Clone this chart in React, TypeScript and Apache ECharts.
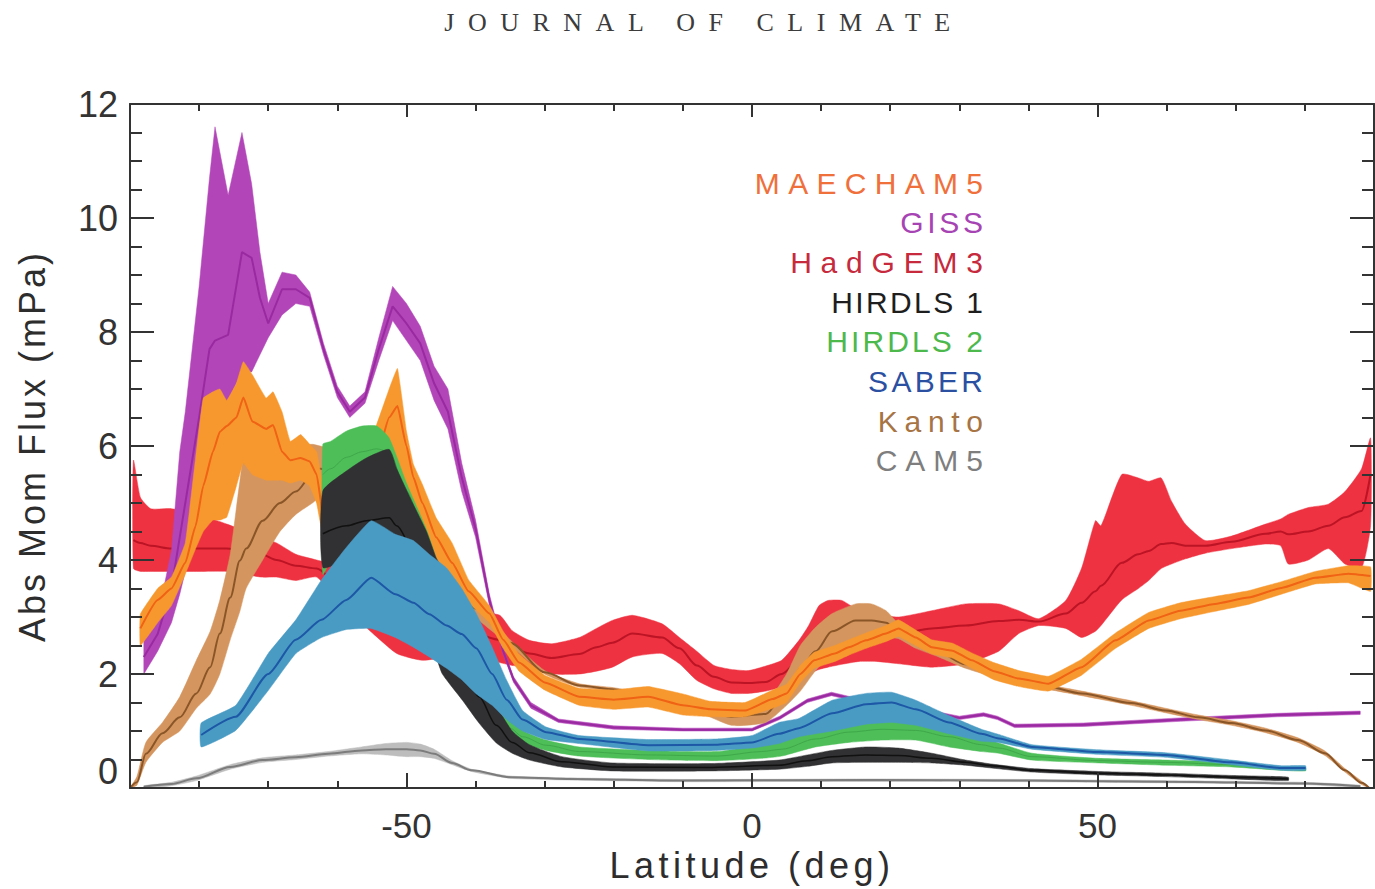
import React, { useEffect, useRef } from "react";
import * as echarts from "echarts";

// ---------------- data ----------------
const xLabelValues = [-50, 0, 50];

const hadLat = [-89.5,-88.5,-87,-84,-80,-76,-71,-68.8,-66,-63,-60,-57,-55.3,-51.4,-47.7,-44,-40,-36.5,-34.7,-32.2,-29,-25,-22.5,-20.2,-17.3,-13,-10.5,-8,-5.5,-3,-0.5,2,4.3,6.8,8.2,9.7,11,13,15.5,18,21.2,26,30.9,35.7,38.6,41.5,45.4,47.7,49.7,50.5,53.5,55.9,57.4,59.2,60.7,62.7,65.6,69.4,74.3,76.5,77.6,80.5,83.4,85.8,88.2,89.5];
const hadLo = [3.85,3.8,3.8,3.8,3.8,3.8,3.7,3.7,3.64,3.7,3.3,2.95,2.76,2.36,2.24,2.3,2.3,2.2,2.15,2.12,2.0,2.0,2.05,2.12,2.3,2.36,2.18,1.89,1.74,1.66,1.66,1.7,1.77,1.9,2.0,2.08,2.12,2.17,2.22,2.22,2.18,2.12,2.18,2.4,2.71,2.85,2.8,2.64,2.75,2.85,3.3,3.5,3.64,3.85,3.93,4.02,4.12,4.2,4.28,4.25,3.93,4.0,4.2,3.93,3.86,4.6];
const hadMean = [4.35,4.3,4.25,4.2,4.2,4.2,4.1,4.0,3.9,3.85,3.6,3.3,3.1,2.8,2.7,2.75,2.7,2.6,2.45,2.36,2.28,2.35,2.47,2.55,2.71,2.64,2.45,2.15,1.95,1.85,1.84,1.86,2.0,2.24,2.4,2.64,2.75,2.82,2.75,2.7,2.7,2.8,2.85,2.93,2.95,2.92,3.06,3.25,3.45,3.55,3.95,4.1,4.16,4.28,4.3,4.25,4.25,4.32,4.46,4.5,4.45,4.5,4.6,4.75,4.86,5.5];
const hadHi = [5.75,5.1,4.9,4.9,4.8,4.63,4.4,4.3,4.1,4.0,3.9,3.7,3.5,3.3,3.2,3.2,3.1,3.03,2.76,2.59,2.53,2.64,2.8,2.94,3.03,2.88,2.64,2.4,2.15,2.08,2.06,2.14,2.24,2.59,2.85,3.2,3.29,3.29,3.11,3.05,3.0,3.11,3.23,3.23,3.11,2.97,3.29,3.86,4.69,4.6,5.5,5.44,5.38,5.44,5.03,4.63,4.34,4.42,4.63,4.72,4.8,4.92,4.98,5.2,5.6,6.14];

const gissLat = [-88,-86,-84,-82.8,-82,-80,-78.5,-77.7,-75.8,-73.8,-72.4,-71.2,-70,-68,-66,-64,-62,-60,-58.2,-56,-54,-52,-50,-48,-46,-44,-42,-40,-38,-36,-34.5,-32,-28,-20,-10,0,4,8,11.5,15,20,25,30,33.5,35.5,38,48,62,76,88];
const gissLo = [2.0,2.4,2.9,3.4,3.8,4.8,5.8,6.3,6.8,7.3,7.3,7.6,7.9,8.3,8.5,8.45,7.6,6.85,6.5,6.75,7.5,8.2,7.85,7.5,6.8,6.3,5.2,4.4,3.2,2.35,1.85,1.4,1.15,1.03,1.0,1.0,1.2,1.5,1.62,1.52,1.42,1.32,1.2,1.26,1.2,1.06,1.08,1.17,1.25,1.29];
const gissMean = [2.3,2.7,3.5,4.4,5.0,6.5,7.7,7.85,7.95,9.4,9.3,8.6,8.15,8.75,8.75,8.6,7.7,6.95,6.6,6.85,7.7,8.45,8.15,7.8,7.1,6.6,5.45,4.55,3.3,2.4,1.9,1.45,1.18,1.06,1.02,1.02,1.23,1.53,1.65,1.55,1.45,1.35,1.23,1.29,1.23,1.09,1.11,1.2,1.28,1.32];
const gissHi = [2.6,3.0,4.16,5.9,6.6,8.8,10.7,11.6,10.4,11.5,10.6,9.4,8.5,9.05,9.0,8.7,7.8,7.05,6.7,6.95,7.9,8.8,8.5,8.1,7.4,7.0,5.7,4.7,3.4,2.45,1.95,1.5,1.21,1.09,1.05,1.05,1.26,1.56,1.68,1.58,1.48,1.38,1.26,1.32,1.26,1.12,1.14,1.23,1.31,1.35];

const kantoLat = [-90,-89,-87.7,-85.3,-82.8,-80.4,-78.4,-77,-75.5,-74.1,-73.2,-70.8,-68.3,-66,-63.6,-62.5,-58,-54,-50,-45,-40,-35,-30,-25,-20,-10,-3,2,5,7,9.2,11.6,15,17.3,19.4,21.2,23.7,27,30.9,35,40,42.9,47.7,54.9,59.8,64.6,69.4,74.3,79,82.9,85.8,88.2,89.3];
const kantoLo = [0,0.05,0.45,0.8,1.0,1.4,1.65,2.0,2.6,3.1,3.5,4.0,4.5,4.8,5.0,5.1,5.1,5.0,4.6,3.8,3.0,2.5,2.0,1.77,1.7,1.45,1.1,1.15,1.45,1.7,2.06,2.36,2.55,2.6,2.64,2.62,2.45,2.3,2.1,1.95,1.8,1.73,1.62,1.45,1.32,1.2,1.1,0.97,0.8,0.57,0.28,0.06,0];
const kantoMean = [0,0.1,0.6,0.96,1.24,1.66,2.12,2.71,3.34,3.99,4.2,4.69,5.0,5.2,5.5,5.6,5.5,5.3,4.8,4.0,3.15,2.55,2.03,1.8,1.73,1.5,1.25,1.3,1.7,2.1,2.4,2.75,2.94,2.94,2.9,2.75,2.53,2.38,2.17,2.0,1.85,1.77,1.66,1.49,1.36,1.24,1.14,1.01,0.84,0.61,0.31,0.09,0];
const kantoHi = [0,0.2,0.8,1.15,1.6,2.24,2.75,3.3,4.1,5.38,5.96,5.85,5.9,6.0,6.03,6.0,5.9,5.6,5.0,4.2,3.3,2.6,2.06,1.83,1.76,1.55,1.4,1.5,2.0,2.5,2.82,3.06,3.23,3.23,3.11,2.88,2.64,2.47,2.24,2.05,1.9,1.81,1.7,1.53,1.4,1.28,1.18,1.05,0.88,0.65,0.34,0.12,0];

const hirdls2Lat = [-62.1,-61,-58.7,-56.4,-54.3,-52.5,-50,-47,-44,-41,-38,-35,-33.2,-29.8,-25,-15,-5,1.4,4.3,9.2,14,18.8,23.7,28.5,33.2,35.7,40.5,50.1,59.8,69.4,76.6,80.1];
const hirdls2Lo = [3.75,4.0,4.6,5.0,5.2,5.3,4.8,4.0,2.8,1.9,1.3,0.9,0.79,0.66,0.56,0.5,0.48,0.52,0.56,0.72,0.8,0.84,0.84,0.72,0.64,0.61,0.49,0.44,0.4,0.37,0.31,0.3];
const hirdls2Mean = [5.5,5.6,5.8,5.9,5.95,5.9,5.2,4.3,3.1,2.2,1.5,1.05,0.9,0.75,0.64,0.58,0.56,0.64,0.68,0.86,0.98,1.03,1.01,0.9,0.76,0.7,0.55,0.48,0.45,0.41,0.34,0.33];
const hirdls2Hi = [6.03,6.08,6.26,6.35,6.35,6.14,5.35,4.5,3.4,2.5,1.7,1.2,1.01,0.84,0.72,0.66,0.64,0.76,0.82,1.01,1.15,1.22,1.19,1.07,0.89,0.79,0.61,0.52,0.49,0.45,0.37,0.36];

const hirdls1Lat = [-62.1,-58.7,-55.8,-52.5,-51.4,-49.1,-47.1,-45.7,-44.8,-41.9,-39.5,-37,-34.7,-32.2,-27.5,-20.2,-5.8,3.9,8,11.6,16.5,21.2,26,30.9,34.7,40.5,50.1,59.8,69.4,77.6];
const hirdls1Lo = [3.87,4.0,4.05,3.9,3.7,3.3,2.7,2.3,2.0,1.54,1.14,0.79,0.61,0.49,0.37,0.3,0.3,0.33,0.38,0.44,0.45,0.45,0.44,0.4,0.35,0.28,0.23,0.2,0.16,0.13];
const hirdls1Mean = [4.46,4.6,4.69,4.74,4.6,4.2,3.6,3.1,2.8,2.1,1.6,1.1,0.8,0.62,0.46,0.37,0.36,0.4,0.48,0.55,0.58,0.57,0.52,0.45,0.39,0.31,0.26,0.23,0.19,0.16];
const hirdls1Hi = [5.21,5.56,5.79,5.94,5.6,5.0,4.5,4.04,3.85,3.0,2.1,1.45,1.0,0.76,0.55,0.44,0.43,0.49,0.58,0.66,0.72,0.7,0.61,0.49,0.42,0.34,0.29,0.26,0.22,0.19];

const saberLat = [-79.7,-74.7,-70,-66,-62.3,-58.7,-55.1,-51.6,-49,-46.7,-44.2,-42,-39.9,-37.6,-35.5,-33.2,-29.8,-25,-15,-5,0,3.9,6.8,11.6,16.5,20.2,23.7,28.5,33.2,35.7,40.5,50.1,59.8,69.4,76.6,80.1];
const saberLo = [0.72,1.01,1.71,2.36,2.64,2.78,2.8,2.64,2.47,2.3,2.1,1.9,1.65,1.45,1.2,1.0,0.85,0.78,0.65,0.66,0.7,0.78,0.9,1.0,1.12,1.15,1.1,0.95,0.82,0.8,0.68,0.59,0.54,0.41,0.31,0.31];
const saberMean = [0.93,1.25,2.0,2.6,2.95,3.3,3.69,3.4,3.25,3.05,2.85,2.7,2.45,2.0,1.55,1.2,0.98,0.86,0.75,0.76,0.8,0.95,1.05,1.31,1.47,1.5,1.38,1.15,0.95,0.87,0.72,0.63,0.58,0.45,0.35,0.35];
const saberHi = [1.14,1.45,2.36,2.95,3.65,4.22,4.69,4.45,4.34,4.1,3.86,3.5,3.06,2.47,1.89,1.36,1.07,0.92,0.85,0.86,0.92,1.15,1.22,1.54,1.66,1.68,1.54,1.27,1.03,0.94,0.76,0.67,0.62,0.49,0.39,0.39];

const maeLat = [-88.5,-86,-84,-82,-80.5,-79.4,-78,-77,-76,-74.6,-73.6,-72.3,-70.3,-69.3,-68,-66.8,-65.3,-64,-63,-62,-60,-57,-54.3,-52.5,-51.3,-50,-49,-47.7,-45.7,-43.4,-41,-38,-36,-33.7,-30,-25,-20,-15,-10,-6,-1,3,5,7,9,12,14,16.5,19.4,21.2,23.7,26,29,31.8,35,38.6,42.9,47.7,52.6,57.4,62,67,71.8,76.6,81.5,86.3,89.5];
const maeLo = [2.5,2.9,3.2,3.75,4.2,4.5,4.7,4.7,4.75,5.3,5.7,5.5,5.4,5.4,5.4,5.35,5.4,5.3,5.0,4.4,4.4,4.6,5.2,5.9,5.4,5.1,4.8,4.5,3.95,3.5,3.25,2.9,2.45,2.05,1.72,1.45,1.38,1.42,1.28,1.25,1.25,1.4,1.5,1.85,2.1,2.22,2.33,2.45,2.57,2.66,2.5,2.35,2.28,2.1,1.9,1.78,1.7,1.98,2.45,2.8,2.97,3.1,3.22,3.4,3.58,3.6,3.45];
const maeMean = [2.8,3.3,3.5,3.95,4.6,5.3,5.9,6.25,6.35,6.5,6.85,6.43,6.3,6.37,5.9,5.75,5.79,5.73,5.5,4.74,4.8,5.1,5.8,6.5,6.7,6.0,5.45,5.0,4.4,3.95,3.45,3.06,2.6,2.2,1.85,1.6,1.55,1.6,1.45,1.38,1.36,1.56,1.66,2.0,2.24,2.36,2.47,2.59,2.71,2.8,2.64,2.47,2.41,2.24,2.05,1.92,1.83,2.12,2.59,2.94,3.11,3.23,3.34,3.51,3.69,3.76,3.72];
const maeHi = [3.05,3.5,3.7,4.3,5.8,6.84,6.95,7.0,6.8,7.1,7.48,7.25,6.84,6.95,6.6,6.08,6.2,6.03,5.9,5.3,5.2,5.6,6.38,7.0,7.36,6.26,5.68,5.33,4.74,4.3,3.65,3.2,2.75,2.35,1.98,1.75,1.72,1.78,1.65,1.52,1.5,1.72,1.82,2.15,2.38,2.5,2.6,2.72,2.85,2.95,2.77,2.6,2.54,2.37,2.2,2.06,1.96,2.26,2.72,3.08,3.25,3.36,3.46,3.62,3.8,3.9,3.88];

const camLat = [-88,-84,-80.4,-75.5,-70.8,-66,-61.3,-56.5,-53,-50,-48,-46,-43.4,-40.6,-35,-26.7,-10,17.5,40,60,80,88];
const camLo = [0,0.04,0.13,0.33,0.45,0.5,0.56,0.6,0.58,0.55,0.55,0.52,0.41,0.29,0.17,0.14,0.11,0.12,0.11,0.09,0.06,0.01];
const camMean = [0.02,0.07,0.17,0.37,0.49,0.54,0.6,0.66,0.68,0.68,0.66,0.6,0.44,0.31,0.19,0.16,0.13,0.14,0.13,0.11,0.08,0.03];
const camHi = [0.04,0.1,0.21,0.41,0.53,0.58,0.64,0.72,0.78,0.8,0.77,0.68,0.48,0.33,0.21,0.18,0.15,0.16,0.15,0.13,0.1,0.05];

const legendNames = ["MAECHAM5", "GISS", "HadGEM3", "HIRDLS 1", "HIRDLS 2", "SABER", "Kanto", "CAM5"];

// ---------------- styles ----------------
const legendColors = ["#F0703C", "#A744B4", "#C62A3C", "#1E1E1E", "#4DB84B", "#2B50A2", "#A77444", "#7E7E7E"];
const letterSpacing: Record<string, number> = {
  "JOURNAL OF CLIMATE": 13.5,
  "Latitude (deg)": 4.5,
  "Abs Mom Flux (mPa)": 3,
  MAECHAM5: 8.3,
  GISS: 3.7,
  HadGEM3: 8.8,
  "HIRDLS 1": 2.4,
  "HIRDLS 2": 3.1,
  SABER: 3.3,
  Kanto: 6.7,
  CAM5: 8,
};

type BandDef = {
  name: string;
  lat: number[];
  lo: number[];
  mean: number[];
  hi: number[];
  fill: string;
  line: string;
  lineWidth: number;
  smooth: number;
};

// drawing order: first = bottom
const bands: BandDef[] = [
  { name: "HadGEM3", lat: hadLat, lo: hadLo, mean: hadMean, hi: hadHi, fill: "#EE3241", line: "#BC1424", lineWidth: 2, smooth: 0.3 },
  { name: "GISS", lat: gissLat, lo: gissLo, mean: gissMean, hi: gissHi, fill: "#B246B8", line: "#9A2AA0", lineWidth: 2, smooth: 0 },
  { name: "Kanto", lat: kantoLat, lo: kantoLo, mean: kantoMean, hi: kantoHi, fill: "#D4955F", line: "#8A5628", lineWidth: 2, smooth: 0.3 },
  { name: "MAECHAM5", lat: maeLat, lo: maeLo, mean: maeMean, hi: maeHi, fill: "#F7982F", line: "#F06214", lineWidth: 2, smooth: 0.15 },
  { name: "HIRDLS 2", lat: hirdls2Lat, lo: hirdls2Lo, mean: hirdls2Mean, hi: hirdls2Hi, fill: "#4DBE58", line: "#3FA84A", lineWidth: 1, smooth: 0.3 },
  { name: "HIRDLS 1", lat: hirdls1Lat, lo: hirdls1Lo, mean: hirdls1Mean, hi: hirdls1Hi, fill: "#313133", line: "#111111", lineWidth: 1.5, smooth: 0.3 },
  { name: "SABER", lat: saberLat, lo: saberLo, mean: saberMean, hi: saberHi, fill: "#4A9BC4", line: "#1D58A6", lineWidth: 2, smooth: 0.2 },
  { name: "CAM5", lat: camLat, lo: camLo, mean: camMean, hi: camHi, fill: "#BDBDBD", line: "#7C7C7C", lineWidth: 2, smooth: 0.3 },
];

function buildSeries() {
  const out: any[] = [];
  bands.forEach((b, k) => {
    out.push({
      type: "custom", name: b.name, silent: true, clip: true,
      z: 2 + k * 2,
      dimensions: ["lat", "lo", "hi"],
      encode: { x: 0, y: [1, 2] },
      data: b.lat.map((x, i) => [x, b.lo[i], b.hi[i]]),
      renderItem: (params: any, api: any) => {
        if (params.dataIndexInside !== 0) return null;
        const n = params.dataInsideLength;
        const upper: number[][] = [];
        const lower: number[][] = [];
        for (let i = 0; i < n; i++) {
          const x = api.value(0, i);
          upper.push(api.coord([x, api.value(2, i)]));
          lower.push(api.coord([x, api.value(1, i)]));
        }
        const pts = upper.concat(lower.reverse());
        return {
          type: "polygon",
          shape: { points: pts, smooth: b.smooth * 0.6 },
          style: { fill: b.fill, stroke: b.fill, lineWidth: 0.5 },
        };
      },
    });
    out.push({
      type: "line", name: b.name, silent: true,
      data: b.lat.map((x, i) => [x, b.mean[i]]),
      symbol: "none", lineStyle: { width: b.lineWidth, color: b.line },
      smooth: b.smooth, smoothMonotone: "x", z: 3 + k * 2,
    });
  });
  return out;
}

const AXIS_COLOR = "#333333";
const SANS = "'Liberation Sans', Arial, sans-serif";

function xAxisDef(position: "top" | "bottom", major: boolean, main: boolean): any {
  return {
    type: "value", min: -90, max: 90, interval: 10, position, z: 100,
    axisLine: { show: !major, onZero: false, lineStyle: { color: AXIS_COLOR, width: 2 } },
    axisTick: major
      ? { show: true, inside: true, length: position === "bottom" ? 15 : 13, customValues: xLabelValues, lineStyle: { color: AXIS_COLOR, width: 2 } }
      : { show: true, inside: true, length: 7, lineStyle: { color: AXIS_COLOR, width: 2 } },
    axisLabel: main
      ? { show: true, customValues: xLabelValues, fontSize: 35, fontFamily: SANS, color: "#333333", margin: 20 }
      : { show: false },
    splitLine: { show: false },
    ...(main
      ? { name: "Latitude (deg)", nameLocation: "middle", nameGap: 56, nameTextStyle: { fontSize: 36, fontFamily: SANS, color: "#2D2D2D" } }
      : {}),
  };
}

function yAxisDef(position: "left" | "right"): any {
  const left = position === "left";
  return {
    type: "value", min: 0, max: 12, interval: 2, position, z: 100,
    axisLine: { show: true, onZero: false, lineStyle: { color: AXIS_COLOR, width: 2 } },
    axisTick: { show: true, inside: true, length: 24, lineStyle: { color: AXIS_COLOR, width: 2 } },
    minorTick: { show: true, splitNumber: 4, length: 12, lineStyle: { color: AXIS_COLOR, width: 2 } },
    axisLabel: left
      ? {
          show: true, fontSize: 36, fontFamily: SANS, color: "#333333", margin: 12,
          formatter: (v: number) => (v === 0 ? "{zero|0}" : String(v)),
          rich: { zero: { fontSize: 36, fontFamily: SANS, color: "#333333", padding: [0, 0, 34, 0] } },
        }
      : { show: false },
    splitLine: { show: false },
    ...(left
      ? { name: "Abs Mom Flux (mPa)", nameLocation: "middle", nameGap: 80, nameTextStyle: { fontSize: 36, fontFamily: SANS, color: "#2D2D2D" } }
      : {}),
  };
}

export default function App() {
  const ref = useRef<HTMLDivElement>(null);
  useEffect(() => {
    if (!ref.current) return;
    const el = ref.current;
    const chart = echarts.init(el, undefined, { renderer: "svg" });
    const legendText = legendNames.map((name, i) => ({
      type: "text",
      x: 983 + (letterSpacing[name] || 0),
      y: 183 + i * 39.7,
      z: 200,
      style: {
        text: name, fill: legendColors[i], font: `30px ${SANS}`,
        textAlign: "right", textVerticalAlign: "middle",
      },
    }));
    chart.setOption({
      animation: false,
      backgroundColor: "#ffffff",
      grid: { left: 130, right: 1, top: 104, bottom: 101, containLabel: false },
      xAxis: [xAxisDef("bottom", false, true), xAxisDef("bottom", true, false), xAxisDef("top", false, false), xAxisDef("top", true, false)],
      yAxis: [yAxisDef("left"), yAxisDef("right")],
      graphic: [
        {
          type: "text", x: 704, y: 22, z: 200,
          style: { text: "JOURNAL OF CLIMATE", fill: "#3C3C3C", font: "26px 'Liberation Serif', 'Times New Roman', serif", textAlign: "center", textVerticalAlign: "middle" },
        },
        ...legendText,
      ],
      series: buildSeries(),
    });
    const applySpacing = () => {
      el.querySelectorAll("text").forEach((t) => {
        const s = letterSpacing[(t.textContent || "").trim()];
        if (s != null) t.setAttribute("letter-spacing", String(s));
      });
    };
    applySpacing();
    chart.on("finished", applySpacing);
    return () => chart.dispose();
  }, []);
  return <div ref={ref} style={{ position: "absolute", left: 0, top: 0, width: 1375, height: 889, background: "#fff" }} />;
}
